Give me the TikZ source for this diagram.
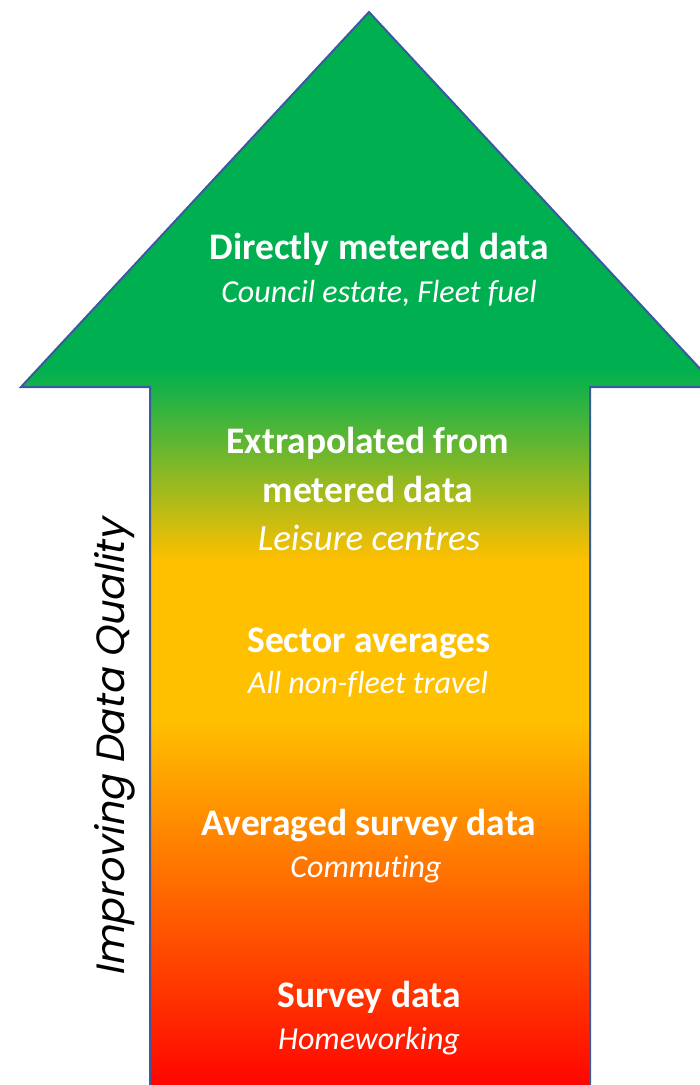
\documentclass[tikz,border=0pt]{standalone}
\usepackage{fontspec}
\setmainfont{Carlito}[Ligatures=NoCommon]
\newfontfamily\gothic{Poppins}[FakeSlant=0.2]
\definecolor{cgreen}{HTML}{00B050}
\definecolor{cyellow}{HTML}{FFC000}
\definecolor{cred}{HTML}{FF0000}
\definecolor{edge}{HTML}{3A5A9E}
\begin{document}
\begin{tikzpicture}[x=1pt,y=-1pt,
  title/.style={font=\fontsize{37.5}{44}\selectfont\bfseries, text=white, anchor=base, inner sep=0pt},
  sub/.style={font=\fontsize{32}{38}\selectfont\itshape, text=white, anchor=base, inner sep=0pt},
  bigsub/.style={sub, font=\fontsize{37}{44}\selectfont\itshape},
  outline/.style={draw=edge, line width=2pt, line join=miter}]
\useasboundingbox (0,0) rectangle (700,1085);
\begin{scope}
  \clip (150,1095) -- (150,387) -- (21,387) -- (369,12) -- (717,387) -- (590,387) -- (590,1095) -- cycle;
  \fill[cgreen] (0,0) rectangle (720,371);
  \shade[top color=cgreen, bottom color=cyellow] (0,370) rectangle (720,561);
  \fill[cyellow] (0,560) rectangle (720,721);
  \shade[top color=cyellow, bottom color=cred] (0,720) rectangle (720,1095);
\end{scope}
\draw[outline] (150,1095) -- (150,387) -- (21,387) -- (369,12) -- (717,387) -- (590,387) -- (590,1095);

\node[title] (t1) at (379,259) {Directly metered data};
\node[sub]   (s1) at (379,302) {Council estate, Fleet fuel};
\node[title] (t2a) at (368,453) {Extrapolated from};
\node[title] (t2b) at (368,502) {metered data};
\node[bigsub] (s2) at (369,550) {Leisure centres};
\node[title] (t3) at (369,652) {Sector averages};
\node[sub]   (s3) at (368,693) {All non-fleet travel};
\node[title] (t4) at (369,835) {Averaged survey data};
\node[sub]   (s4) at (366,877) {Commuting};
\node[title] (t5) at (369,1007) {Survey data};
\node[sub]   (s5) at (369,1049) {Homeworking};

\node[rotate=90, anchor=base, inner sep=0pt, font=\fontsize{39.5}{44}\selectfont\gothic] (q) at (124,748) {Improving Data Quality};
\end{tikzpicture}
\end{document}
